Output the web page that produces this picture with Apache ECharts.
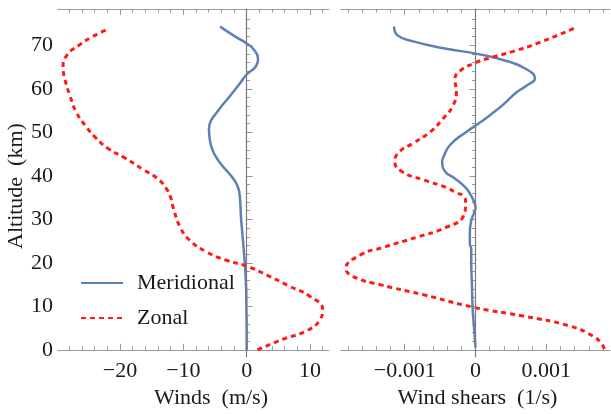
<!DOCTYPE html>
<html>
<head>
<meta charset="utf-8">
<script src="https://cdn.jsdelivr.net/npm/echarts@6/dist/echarts.min.js"></script>
<style>html,body{margin:0;padding:0;background:#fff;}#c{width:611px;height:414px;}</style>
</head>
<body>
<div id="c"></div>
<script>
// ---- data (altitude in km) ----
const merAlt = [0, 5, 10, 14.6, 19.1, 22.2, 26.7, 30.5, 33.5, 35.7, 37.3, 38.8, 40.6, 42.5, 44.5, 46.3, 48.6, 50.9, 52.8, 54.6, 56.5, 58.4, 61.4, 63.3, 65.2, 66.9, 69.0, 70.4, 72.0, 74.3];
const merWind = [0, 0, -0.05, -0.1, -0.26, -0.42, -0.68, -0.9, -1.0, -1.12, -1.35, -1.85, -2.8, -3.95, -4.9, -5.5, -5.85, -5.96, -5.6, -4.7, -3.7, -2.6, -1.0, 0, 1.47, 1.8, 1.15, 0, -1.8, -4.2];

const zonAlt = [0, 2.5, 4.4, 7.0, 9.3, 12.3, 14.6, 17.2, 19.3, 20.6, 22.5, 25.2, 28.2, 32.7, 35.0, 37.3, 39.5, 41.4, 44.1, 46.3, 49.0, 51.6, 54.6, 58.4, 62.2, 65.2, 67.9, 69.9, 71.9, 73.7];
const zonWind = [1.7, 5.8, 9.5, 11.6, 12.0, 10.0, 6.8, 3.2, -0.1, -3.2, -6.3, -9.0, -10.5, -11.6, -12.0, -12.8, -14.2, -16.3, -19.2, -21.9, -24.0, -25.5, -26.9, -27.9, -28.7, -29.0, -28.3, -26.6, -24.5, -21.9];

const merShearAlt = [0.6, 5, 9.3, 15, 20, 23.3, 24.4, 27, 29.7, 31.5, 32.7, 34, 35.4, 37.3, 39.5, 41.0, 43.4, 44.1, 47.1, 50.1, 52.0, 53.9, 56.5, 59.2, 60.7, 62.4, 64.5, 66.4, 68.1, 69.2, 70.9, 72.4, 74.3];
const merShear = [0, -0.00002, -0.00004, -0.00005, -0.00006, -0.00006, -0.00008, -0.00008, -0.00006, -0.00002, 0, -0.00002, -0.00006, -0.00014, -0.0003, -0.00043, -0.00047, -0.00046, -0.00036, -0.00013, 0.00004, 0.0002, 0.0004, 0.00058, 0.00072, 0.00084, 0.00072, 0.00044, 0, -0.00041, -0.00088, -0.00111, -0.00115];

const zonShearAlt = [0.2, 1.7, 3.2, 5.5, 7.8, 9.7, 12.7, 15.0, 16.8, 18.7, 21.8, 23.6, 25.9, 28.2, 30.8, 33.9, 35.4, 36.1, 37.3, 39.1, 41.0, 43.3, 45.6, 47.5, 50.1, 53.1, 56.1, 59.2, 62.2, 64.1, 66.0, 67.1, 68.6, 70.5, 74.1];
const zonShear = [0.00182, 0.00177, 0.00166, 0.00133, 0.00067, 0, -0.00074, -0.00135, -0.00172, -0.00183, -0.00163, -0.0013, -0.00083, -0.00041, -0.00017, -0.00014, -0.00017, -0.00027, -0.00041, -0.00074, -0.00104, -0.00114, -0.00107, -0.00088, -0.00064, -0.00046, -0.00032, -0.00027, -0.00029, -0.00022, 0, 0.0002, 0.00053, 0.00088, 0.00142];

// ---- ticks ----
const altTicks = [0, 10, 20, 30, 40, 50, 60, 70];
const windTicks = [-20, -10, 0, 10];
const shearTicks = [-0.001, 0, 0.001];
const altMinor = [];
for (let i = 0; i <= 38; i++) altMinor.push(i * 2);
const windMinor = [];
for (let i = -14; i <= 6; i++) windMinor.push(i * 2);
const shearMinor = [];
for (let i = -9; i <= 9; i++) shearMinor.push(Math.round(i * 2) / 10000);

const FONT = 'Liberation Serif';
const FS = 22;
const FRAME = '#9a9a9a';
const TXT = '#1a1a1a';
const fmt = v => (v < 0 ? '\u2212' : '') + String(Math.abs(v));

function axis(dim, grid, pos, min, max, ticks, len, opts) {
  opts = opts || {};
  return Object.assign({
    type: 'value', gridIndex: grid, position: pos, min: min, max: max,
    axisLine: { show: !!opts.line, lineStyle: { color: FRAME, width: 1 } },
    axisTick: { show: true, inside: true, length: len, customValues: ticks, lineStyle: { color: FRAME, width: 1 } },
    axisLabel: opts.labels ? {
      show: true, customValues: ticks, formatter: fmt, fontFamily: FONT, fontSize: FS, color: TXT,
      margin: dim === 'x' ? 3 : 5
    } : { show: false },
    splitLine: { show: false }
  }, opts.extra || {});
}

const yMin = -1.65, yMax = 78.35;
const wMin = -29.8, wMax = 13.0;
const sMin = -0.0019, sMax = 0.0019;

const xAxes = [
  axis('x', 0, 'bottom', wMin, wMax, windTicks, 6, { line: true, labels: true, extra: {
    name: 'Winds  (m/s)', nameLocation: 'middle', nameGap: 26,
    nameTextStyle: { fontFamily: FONT, fontSize: FS, color: TXT, padding: [0, 0, 0, 35] } } }),
  axis('x', 0, 'bottom', wMin, wMax, windMinor, 3.5),
  axis('x', 0, 'top', wMin, wMax, windTicks, 6, { line: true }),
  axis('x', 0, 'top', wMin, wMax, windMinor, 3.5),
  axis('x', 1, 'bottom', sMin, sMax, shearTicks, 6, { line: true, labels: true, extra: {
    name: 'Wind shears  (1/s)', nameLocation: 'middle', nameGap: 26,
    nameTextStyle: { fontFamily: FONT, fontSize: FS, color: TXT, padding: [0, 0, 0, 4] } } }),
  axis('x', 1, 'bottom', sMin, sMax, shearMinor, 3.5),
  axis('x', 1, 'top', sMin, sMax, shearTicks, 6, { line: true }),
  axis('x', 1, 'top', sMin, sMax, shearMinor, 3.5)
];
const yAxes = [
  axis('y', 0, 'left', yMin, yMax, altTicks, 6, { line: true, labels: true, extra: {
    name: 'Altitude  (km)', nameLocation: 'middle', nameGap: 29, nameRotate: 90,
    nameTextStyle: { fontFamily: FONT, fontSize: FS, color: TXT, padding: [0, 6, 0, 0] } } }),
  axis('y', 0, 'left', yMin, yMax, altMinor, 3.5),
  axis('y', 1, 'right', yMin, yMax, altTicks, 6, { line: true }),
  axis('y', 1, 'right', yMin, yMax, altMinor, 3.5)
];

const BLUE = '#5e81b5', RED = '#ff1a1a';
const pairs = (xs, ys) => ys.map((y, i) => [xs[i], y]);
const zeroLine = (xi, yi) => ({
  type: 'line', xAxisIndex: xi, yAxisIndex: yi, data: [], silent: true, z: 1,
  markLine: { silent: true, symbol: ['none', 'none'], label: { show: false },
    lineStyle: { color: '#7a7a7a', width: 1.2, type: 'solid' }, data: [{ xAxis: 0 }], animation: false }
});
const blueStyle = { color: BLUE, width: 2.5, type: 'solid' };
const redStyle = { color: RED, width: 3, type: [5, 4] };
const SM = 0.5;

const option = {
  animation: false,
  backgroundColor: '#fff',
  grid: [
    { left: 58, top: 9, width: 271, height: 352 },
    { left: 341, top: 9, width: 269, height: 352 }
  ],
  xAxis: xAxes,
  yAxis: yAxes,
  legend: {
    data: ['Meridional', 'Zonal'], orient: 'vertical', left: 80, top: 272, padding: 0,
    itemWidth: 42, itemHeight: 20, itemGap: 13,
    itemStyle: { opacity: 0 },
    textStyle: { fontFamily: FONT, fontSize: FS, color: TXT, padding: [0, 0, 0, 9] }
  },
  series: [
    zeroLine(0, 0),
    zeroLine(4, 2),
    { name: 'Meridional', type: 'line', xAxisIndex: 0, yAxisIndex: 0, symbol: 'none', smooth: SM,
      lineStyle: blueStyle, itemStyle: { color: BLUE }, data: pairs(merWind, merAlt), z: 3 },
    { name: 'Zonal', type: 'line', xAxisIndex: 0, yAxisIndex: 0, symbol: 'none', smooth: SM,
      lineStyle: redStyle, itemStyle: { color: RED }, data: pairs(zonWind, zonAlt), z: 3 },
    { name: 'Meridional', type: 'line', xAxisIndex: 4, yAxisIndex: 2, symbol: 'none', smooth: SM,
      lineStyle: blueStyle, itemStyle: { color: BLUE }, data: pairs(merShear, merShearAlt), z: 3 },
    { name: 'Zonal', type: 'line', xAxisIndex: 4, yAxisIndex: 2, symbol: 'none', smooth: SM,
      lineStyle: redStyle, itemStyle: { color: RED }, data: pairs(zonShear, zonShearAlt), z: 3 }
  ]
};
const chart = echarts.init(document.getElementById('c'), null, { renderer: 'canvas' });
chart.setOption(option);
</script>
</body>
</html>
